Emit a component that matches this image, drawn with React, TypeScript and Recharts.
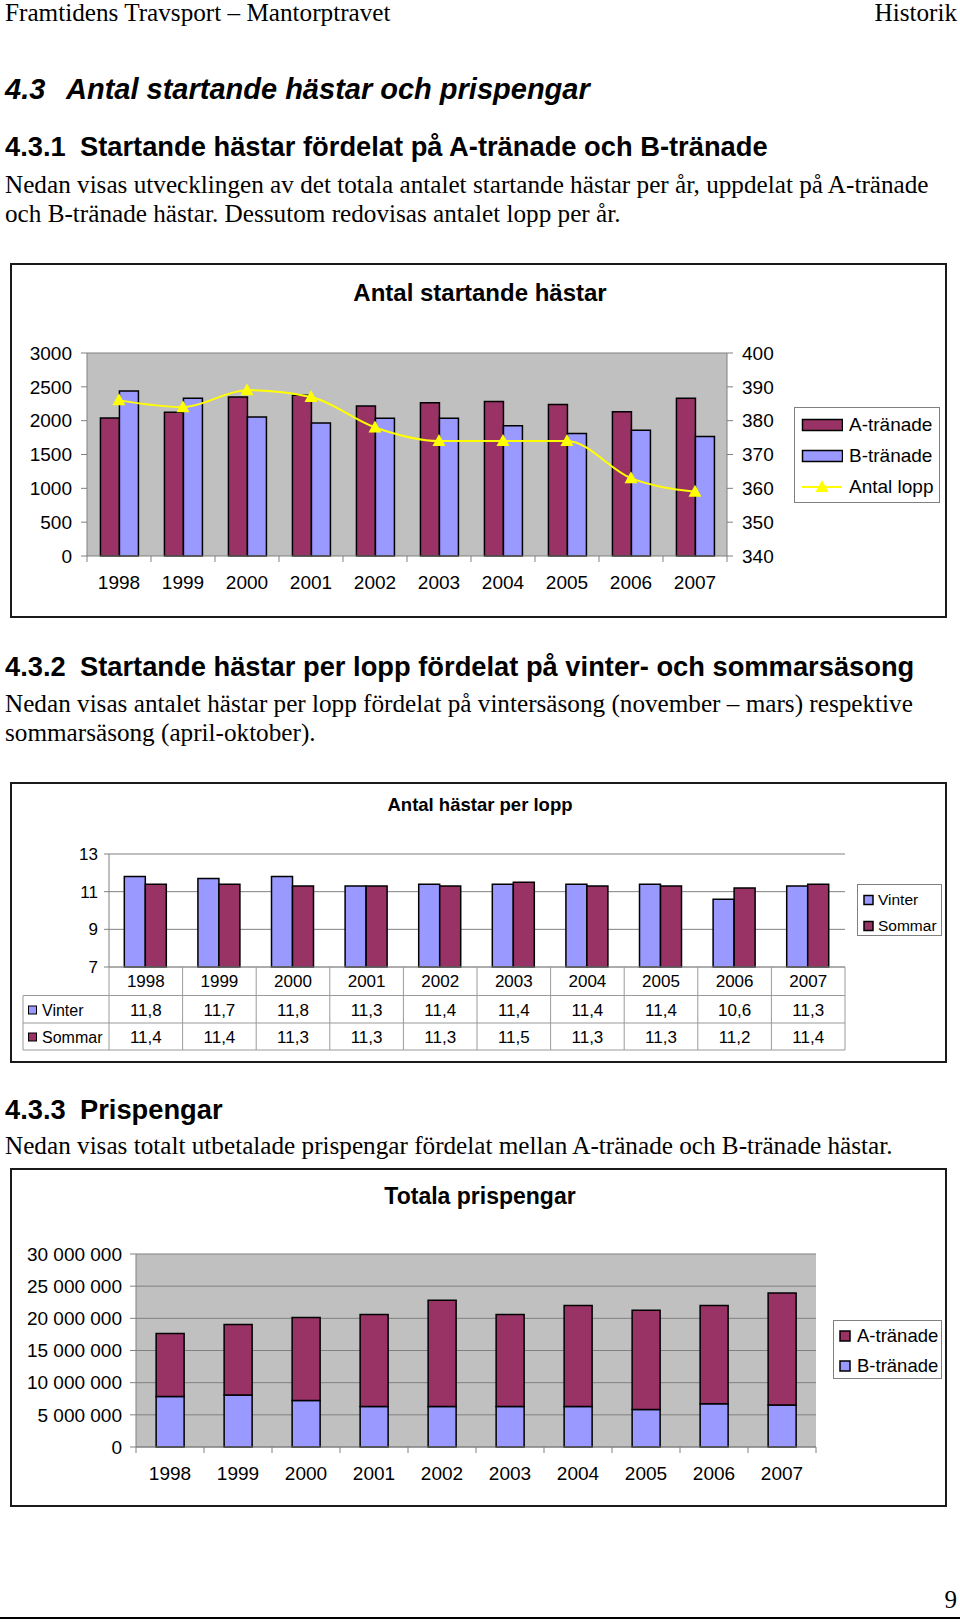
import React from 'react';
import { ComposedChart, BarChart, Bar, Line, XAxis, YAxis, CartesianGrid, ReferenceLine, Legend } from 'recharts';

const SANS = '"Liberation Sans", Arial, sans-serif';
const SERIF = '"Liberation Serif", "Times New Roman", serif';
const PLUM = '#993366';
const PERI = '#9999FF';
const YELLOW = '#FFFF00';
const PLOT_BG = '#C0C0C0';
const AXIS = '#808080';

// Antal startande hästar
const years = ['1998', '1999', '2000', '2001', '2002', '2003', '2004', '2005', '2006', '2007'];
const aTranade = [2040, 2125, 2350, 2375, 2215, 2265, 2285, 2240, 2130, 2330];
const bTranade = [2440, 2330, 2055, 1965, 2035, 2035, 1925, 1810, 1860, 1765];
const antalLopp = [386, 384, 389, 387, 378, 374, 374, 374, 363, 359];
const leftTicks1 = [0, 500, 1000, 1500, 2000, 2500, 3000];
const rightTicks1 = [340, 350, 360, 370, 380, 390, 400];
const legend1Order = ['A-tränade', 'B-tränade', 'Antal lopp'];

// Antal hästar per lopp
const vinter = [11.8, 11.7, 11.8, 11.3, 11.4, 11.4, 11.4, 11.4, 10.6, 11.3];
const sommar = [11.4, 11.4, 11.3, 11.3, 11.3, 11.5, 11.3, 11.3, 11.2, 11.4];
const ticks2 = [7, 9, 11, 13];
const legend2Order = ['Vinter', 'Sommar'];

// Totala prispengar
const prisA = [9780000, 10960000, 12880000, 14280000, 16500000, 14280000, 15670000, 15420000, 15260000, 17430000];
const prisB = [7860000, 8070000, 7240000, 6310000, 6310000, 6310000, 6310000, 5840000, 6720000, 6520000];
const ticks3 = [0, 5000000, 10000000, 15000000, 20000000, 25000000, 30000000];
const legend3Order = ['A-tränade', 'B-tränade'];

const data1 = years.map((year, i) => ({ year, a: aTranade[i], b: bTranade[i], lopp: antalLopp[i] }));
const data2 = years.map((year, i) => ({ year, vinter: vinter[i], sommar: sommar[i] }));
const data3 = years.map((year, i) => ({ year, a: prisA[i], b: prisB[i] }));

const spaced = (n: number) => String(n).replace(/\B(?=(\d{3})+(?!\d))/g, ' ');
const comma = (n: number) => n.toFixed(1).replace('.', ',');
const ordered = (payload: any[], order: string[]) =>
  order.map((name) => (payload || []).find((e: any) => e.value === name)).filter(Boolean);

const Txt = ({ x, y, size, children, font = SERIF, weight = 'normal', italic = false, right = false }: any) => (
  <div
    style={{
      position: 'absolute',
      left: right ? undefined : x,
      right: right ? 960 - x : undefined,
      top: y - size * 0.6,
      fontSize: size,
      lineHeight: `${size * 1.2}px`,
      fontFamily: font,
      fontWeight: weight,
      fontStyle: italic ? 'italic' : 'normal',
      whiteSpace: 'pre',
      color: '#000',
    }}
  >
    {children}
  </div>
);

const Title = ({ y, size, children }: any) => (
  <div
    style={{
      position: 'absolute', left: 170, width: 600, top: y - size * 0.6, textAlign: 'center',
      fontSize: size, lineHeight: `${size * 1.2}px`, fontFamily: SANS, fontWeight: 'bold', whiteSpace: 'nowrap',
    }}
  >
    {children}
  </div>
);

const Box = ({ left, top, width, height }: any) => (
  <div
    style={{
      position: 'absolute', left, top, width, height, border: '2px solid #1a1a1a',
      boxSizing: 'border-box', pointerEvents: 'none',
    }}
  />
);

const boundaryTick = (size: number, tickLen: number, margin: number, band: number) => (props: any) => {
  const { x, y, payload, index, visibleTicksCount } = props;
  const off = payload.offset || band / 2;
  const axisY = y - tickLen - margin;
  const last = index === visibleTicksCount - 1;
  return (
    <g>
      <line x1={x - off} x2={x - off} y1={axisY} y2={axisY + tickLen} stroke={AXIS} />
      {last && <line x1={x + off} x2={x + off} y1={axisY} y2={axisY + tickLen} stroke={AXIS} />}
      <text x={x} y={y} dy="0.71em" textAnchor="middle" fontSize={size} fontFamily={SANS} fill="#000">
        {payload.value}
      </text>
    </g>
  );
};

const TableTick = (props: any) => {
  const { x, y, payload, index, visibleTicksCount } = props;
  const off = payload.offset || 36.8;
  const l = x - off;
  const r = x + off;
  const rows = [y + 28.5, y + 56, y + 83];
  const fs = 17;
  const base = (c: number) => c + fs * 0.36;
  const row = data2[index];
  const grid = '#9a9a9a';
  return (
    <g fontFamily={SANS} fontSize={fs} fill="#000">
      <line x1={l} x2={l} y1={y} y2={rows[2]} stroke={grid} />
      {index === visibleTicksCount - 1 && <line x1={r} x2={r} y1={y} y2={rows[2]} stroke={grid} />}
      {rows.map((ry) => (
        <line key={ry} x1={l} x2={r} y1={ry} y2={ry} stroke={grid} />
      ))}
      <text x={x} y={base(y + 13.7)} textAnchor="middle">{payload.value}</text>
      <text x={x} y={base(y + 43.2)} textAnchor="middle">{comma(row.vinter)}</text>
      <text x={x} y={base(y + 70.2)} textAnchor="middle">{comma(row.sommar)}</text>
      {index === 0 && (
        <g>
          {rows.map((ry) => (
            <line key={'h' + ry} x1={l - 86} x2={l} y1={ry} y2={ry} stroke={grid} />
          ))}
          <line x1={l - 86} x2={l - 86} y1={rows[0]} y2={rows[2]} stroke={grid} />
          <rect x={l - 80.5} y={y + 39} width={8} height={8} fill={PERI} stroke="#000" />
          <text x={l - 67} y={base(y + 43.2)} fontSize={16}>Vinter</text>
          <rect x={l - 80.5} y={y + 66} width={8} height={8} fill={PLUM} stroke="#000" />
          <text x={l - 67} y={base(y + 70.2)} fontSize={16}>Sommar</text>
        </g>
      )}
    </g>
  );
};

const TriangleDot = (props: any) => {
  const { cx, cy, index } = props;
  if (cx == null || cy == null) return <g key={index} />;
  return <path key={index} d={`M${cx},${cy - 7}L${cx + 6.5},${cy + 5}L${cx - 6.5},${cy + 5}Z`} fill={YELLOW} />;
};

const Legend1 = ({ payload }: any) => (
  <div
    style={{
      width: 146, height: 96, border: `1px solid ${AXIS}`, boxSizing: 'border-box', background: '#fff',
      position: 'relative', fontFamily: SANS, fontSize: 19,
    }}
  >
    {ordered(payload, legend1Order).map((e: any, i: number) => (
      <div key={e.value} style={{ position: 'absolute', left: 0, top: 16.6 + i * 31.4 - 12, height: 24, width: 146 }}>
        <svg width={48} height={24} style={{ position: 'absolute', left: 0, top: 0 }}>
          {e.type === 'line' ? (
            <g>
              <line x1={7} x2={47} y1={12} y2={12} stroke={YELLOW} strokeWidth={2} />
              <path d="M27,5L33.5,17L20.5,17Z" fill={YELLOW} />
            </g>
          ) : (
            <rect x={7.5} y={6.5} width={40} height={11} fill={e.color} stroke="#000" strokeWidth={1.5} />
          )}
        </svg>
        <span style={{ position: 'absolute', left: 54, top: 0, lineHeight: '24px', whiteSpace: 'nowrap' }}>{e.value}</span>
      </div>
    ))}
  </div>
);

const squareLegend = (w: number, h: number, fs: number, first: number, step: number, sq: number, sqLeft: number, txtLeft: number, order: string[]) =>
  ({ payload }: any) => (
    <div
      style={{
        width: w, height: h, border: `1px solid ${AXIS}`, boxSizing: 'border-box', background: '#fff',
        position: 'relative', fontFamily: SANS, fontSize: fs,
      }}
    >
      {ordered(payload, order).map((e: any, i: number) => (
        <div key={e.value} style={{ position: 'absolute', left: 0, top: first + i * step - 12, height: 24, width: w }}>
          <svg width={sqLeft + sq + 2} height={24} style={{ position: 'absolute', left: 0, top: 0 }}>
            <rect x={sqLeft} y={12 - sq / 2} width={sq} height={sq} fill={e.color} stroke="#000" strokeWidth={1.5} />
          </svg>
          <span style={{ position: 'absolute', left: txtLeft, top: 0, lineHeight: '24px', whiteSpace: 'nowrap' }}>{e.value}</span>
        </div>
      ))}
    </div>
  );

const tickStyle = (size: number) => ({ fill: '#000', fontSize: size, fontFamily: SANS });

const BODY = 25.2;
const H3 = 27.3;

export default function App() {
  return (
    <div style={{ position: 'absolute', left: 0, top: 0, width: 960, height: 1622, background: '#fff', overflow: 'hidden' }}>
      <Txt x={5} y={13.4} size={25.2}>Framtidens Travsport – Mantorptravet</Txt>
      <Txt x={957} y={13.4} size={25.2} right>Historik</Txt>

      <Txt x={5} y={89} size={29} font={SANS} weight="bold" italic>4.3</Txt>
      <Txt x={66} y={89} size={29} font={SANS} weight="bold" italic>Antal startande hästar och prispengar</Txt>
      <Txt x={5} y={147} size={H3} font={SANS} weight="bold">4.3.1</Txt>
      <Txt x={80} y={147} size={H3} font={SANS} weight="bold">Startande hästar fördelat på A-tränade och B-tränade</Txt>
      <Txt x={5} y={185} size={BODY}>Nedan visas utvecklingen av det totala antalet startande hästar per år, uppdelat på A-tränade</Txt>
      <Txt x={5} y={214} size={BODY}>och B-tränade hästar. Dessutom redovisas antalet lopp per år.</Txt>

      {/* Antal startande hästar */}
      <div style={{ position: 'absolute', left: 10, top: 263, width: 937, height: 355 }}>
        <Title y={30} size={24}>Antal startande hästar</Title>
        <ComposedChart width={937} height={355} data={data1} margin={{ top: 90, right: 160, bottom: 0, left: 0 }} barGap={0} barCategoryGap="21%">
          <CartesianGrid yAxisId="left" fill={PLOT_BG} fillOpacity={1} horizontal={false} vertical={false} />
          <XAxis dataKey="year" height={62} interval={0} tickLine={false} axisLine={{ stroke: AXIS }} tickSize={6} tickMargin={14} tick={boundaryTick(19, 6, 14, 64)} />
          <YAxis yAxisId="left" width={77} domain={[0, 3000]} ticks={leftTicks1} interval={0} tick={tickStyle(19)} tickLine={{ stroke: AXIS }} axisLine={{ stroke: AXIS }} tickSize={6} tickMargin={9} />
          <YAxis yAxisId="right" orientation="right" width={60} domain={[340, 400]} ticks={rightTicks1} interval={0} tick={tickStyle(19)} tickLine={{ stroke: AXIS }} axisLine={{ stroke: AXIS }} tickSize={6} tickMargin={9} />
          <ReferenceLine yAxisId="left" y={3000} stroke={AXIS} />
          <Bar yAxisId="left" dataKey="a" name="A-tränade" fill={PLUM} stroke="#000" strokeWidth={1.5} isAnimationActive={false} />
          <Bar yAxisId="left" dataKey="b" name="B-tränade" fill={PERI} stroke="#000" strokeWidth={1.5} isAnimationActive={false} />
          <Line yAxisId="right" dataKey="lopp" name="Antal lopp" type="monotone" stroke={YELLOW} strokeWidth={2} dot={TriangleDot} activeDot={false} isAnimationActive={false} />
          <Legend layout="horizontal" align="center" verticalAlign="middle" content={Legend1} wrapperStyle={{ left: 784, top: 144, width: 146, height: 96 }} />
        </ComposedChart>
      </div>
      <Box left={10} top={263} width={937} height={355} />

      <Txt x={5} y={667} size={H3} font={SANS} weight="bold">4.3.2</Txt>
      <Txt x={80} y={667} size={H3} font={SANS} weight="bold">Startande hästar per lopp fördelat på vinter- och sommarsäsong</Txt>
      <Txt x={5} y={704.5} size={BODY}>Nedan visas antalet hästar per lopp fördelat på vintersäsong (november – mars) respektive</Txt>
      <Txt x={5} y={733.5} size={BODY}>sommarsäsong (april-oktober).</Txt>

      {/* Antal hästar per lopp */}
      <div style={{ position: 'absolute', left: 10, top: 782, width: 937, height: 281 }}>
        <Title y={23} size={18.5}>Antal hästar per lopp</Title>
        <BarChart width={937} height={281} data={data2} margin={{ top: 72, right: 102, bottom: 0, left: 0 }} barGap={0} barCategoryGap="20.8%">
          <CartesianGrid vertical={false} stroke={AXIS} />
          <XAxis dataKey="year" height={96} interval={0} tickLine={false} axisLine={{ stroke: '#9a9a9a' }} tickSize={0} tickMargin={0} tick={TableTick} />
          <YAxis width={99} domain={[7, 13]} ticks={ticks2} interval={0} tick={tickStyle(17)} tickLine={{ stroke: AXIS }} axisLine={{ stroke: AXIS }} tickSize={5} tickMargin={6} />
          <Bar dataKey="vinter" name="Vinter" fill={PERI} stroke="#000" strokeWidth={1.5} isAnimationActive={false} />
          <Bar dataKey="sommar" name="Sommar" fill={PLUM} stroke="#000" strokeWidth={1.5} isAnimationActive={false} />
          <Legend layout="horizontal" align="center" verticalAlign="middle" content={squareLegend(85, 52, 15.5, 15, 26, 9, 6, 20, legend2Order)} wrapperStyle={{ left: 847, top: 102, width: 85, height: 52 }} />
        </BarChart>
      </div>
      <Box left={10} top={782} width={937} height={281} />

      <Txt x={5} y={1110} size={H3} font={SANS} weight="bold">4.3.3</Txt>
      <Txt x={80} y={1110} size={H3} font={SANS} weight="bold">Prispengar</Txt>
      <Txt x={5} y={1146} size={BODY}>Nedan visas totalt utbetalade prispengar fördelat mellan A-tränade och B-tränade hästar.</Txt>

      {/* Totala prispengar */}
      <div style={{ position: 'absolute', left: 10, top: 1168, width: 937, height: 339 }}>
        <Title y={29} size={23}>Totala prispengar</Title>
        <BarChart width={937} height={339} data={data3} margin={{ top: 86, right: 131, bottom: 0, left: 0 }} barCategoryGap="29.6%">
          <CartesianGrid vertical={false} stroke={AXIS} fill={PLOT_BG} fillOpacity={1} />
          <XAxis dataKey="year" height={60} interval={0} tickLine={false} axisLine={{ stroke: AXIS }} tickSize={6} tickMargin={14} tick={boundaryTick(19, 6, 14, 68)} />
          <YAxis width={126} domain={[0, 30000000]} ticks={ticks3} interval={0} tickFormatter={spaced} tick={tickStyle(19)} tickLine={{ stroke: AXIS }} axisLine={{ stroke: AXIS }} tickSize={6} tickMargin={8} />
          <YAxis yAxisId="edge" orientation="right" width={0} tick={false} tickLine={false} axisLine={{ stroke: AXIS }} />
          <Bar dataKey="b" name="B-tränade" stackId="p" fill={PERI} stroke="#000" strokeWidth={1.5} isAnimationActive={false} />
          <Bar dataKey="a" name="A-tränade" stackId="p" fill={PLUM} stroke="#000" strokeWidth={1.5} isAnimationActive={false} />
          <Legend layout="horizontal" align="center" verticalAlign="middle" content={squareLegend(109, 59, 18.5, 15, 30, 10, 6, 23, legend3Order)} wrapperStyle={{ left: 823, top: 152, width: 109, height: 59 }} />
        </BarChart>
      </div>
      <Box left={10} top={1168} width={937} height={339} />

      <Txt x={957} y={1600} size={25} right>9</Txt>
      <div style={{ position: 'absolute', left: 0, top: 1617, width: 960, height: 2, background: '#000' }} />
    </div>
  );
}
